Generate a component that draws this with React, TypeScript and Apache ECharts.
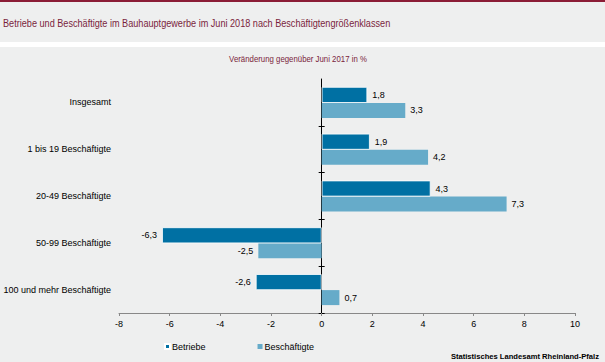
import React, { useEffect, useRef } from "react";
import * as echarts from "echarts";

const categories = [
  "Insgesamt",
  "1 bis 19 Beschäftigte",
  "20-49 Beschäftigte",
  "50-99 Beschäftigte",
  "100 und mehr Beschäftigte",
];
const betriebe = [1.8, 1.9, 4.3, -6.3, -2.6];
const beschaeftigte = [3.3, 4.2, 7.3, -2.5, 0.7];
const xMin = -8;
const xMax = 10;
const xInterval = 2;

const FONT = "'Liberation Sans', Arial, sans-serif";
const fmt = (v: number) => String(v).replace(".", ",");

const GRID_LEFT = 119;
const GRID_RIGHT = 30;
const GRID_W = 605 - GRID_LEFT - GRID_RIGHT;
const ZERO_OFFSET = -(GRID_W * (0 - xMin)) / (xMax - xMin);

export default function App() {
  const ref = useRef<HTMLDivElement>(null);
  useEffect(() => {
    document.body.style.margin = "0";
    const chart = echarts.init(ref.current!, null, { renderer: "svg" });
    const label = (pos: string) => ({
      show: true,
      position: pos,
      distance: 5,
      color: "#000",
      fontSize: 9,
      fontFamily: FONT,
      formatter: (p: any) => fmt(p.value),
    });
    const tickAxis = (inside: boolean) => ({
      type: "category",
      data: categories,
      inverse: true,
      position: "left",
      offset: ZERO_OFFSET,
      axisLine: { show: !inside, onZero: false, lineStyle: { color: "#000", width: 1 } },
      axisTick: {
        show: true,
        inside,
        length: 3,
        interval: (i: number) => i > 0,
        lineStyle: { color: "#000" },
      },
      axisLabel: { show: false },
    });
    chart.setOption({
      animation: false,
      backgroundColor: "#EEEFEF",
      textStyle: { fontFamily: FONT },
      graphic: [
        { type: "rect", shape: { x: 0, y: 0, width: 605, height: 2 }, style: { fill: "#8B1C36" } },
        { type: "rect", shape: { x: 0, y: 42, width: 605, height: 5 }, style: { fill: "#FFFFFF" } },
        {
          type: "text",
          x: 3,
          y: 23,
          scaleX: 0.83,
          style: {
            text: "Betriebe und Beschäftigte im Bauhauptgewerbe im Juni 2018 nach Beschäftigtengrößenklassen",
            fill: "#7A1E3C",
            font: `11px ${FONT}`,
            textVerticalAlign: "middle",
          },
        },
        {
          type: "text",
          x: 298,
          y: 59,
          scaleX: 0.87,
          style: {
            text: "Veränderung gegenüber Juni 2017 in %",
            fill: "#7A1E3C",
            font: `9px ${FONT}`,
            textAlign: "center",
            textVerticalAlign: "middle",
          },
        },
        {
          type: "text",
          x: 599,
          y: 356,
          style: {
            text: "Statistisches Landesamt Rheinland-Pfalz",
            fill: "#000",
            font: `bold 7.6px ${FONT}`,
            textAlign: "right",
            textVerticalAlign: "middle",
          },
        },
      ],
      legend: {
        left: 159,
        top: 337,
        itemWidth: 5,
        itemHeight: 5,
        itemGap: 52,
        icon: "rect",
        textStyle: { fontSize: 9, color: "#000", fontFamily: FONT, padding: [0, 0, 0, -3] },
        data: ["Betriebe", "Beschäftigte"],
      },
      grid: { left: GRID_LEFT, right: GRID_RIGHT, top: 79, bottom: 49 },
      xAxis: {
        type: "value",
        min: xMin,
        max: xMax,
        interval: xInterval,
        axisLine: { show: true, onZero: false, lineStyle: { color: "#888", width: 1 } },
        axisTick: { show: true, length: 3, lineStyle: { color: "#888" } },
        splitLine: { show: false },
        axisLabel: { color: "#000", fontSize: 9, margin: 6, fontFamily: FONT },
      },
      yAxis: [
        {
          type: "category",
          data: categories,
          inverse: true,
          position: "left",
          axisLine: { show: false, onZero: false },
          axisTick: { show: false },
          axisLabel: { color: "#000", fontSize: 9, margin: 8, fontFamily: FONT },
        },
        tickAxis(false),
        tickAxis(true),
      ],
      series: [
        {
          name: "Betriebe",
          type: "bar",
          yAxisIndex: 0,
          data: betriebe.map((v) => ({ value: v, label: label(v < 0 ? "left" : "right") })),
          itemStyle: { color: "#0070A3", borderColor: "#FFFFFF", borderWidth: 0.8 },
          barWidth: 16,
          barGap: "0%",
          z: 3,
        },
        {
          name: "Beschäftigte",
          type: "bar",
          yAxisIndex: 0,
          data: beschaeftigte.map((v) => ({ value: v, label: label(v < 0 ? "left" : "right") })),
          itemStyle: { color: "#66ABC9" },
          barWidth: 15,
          barGap: "0%",
          z: 2,
        },
      ],
    });
    return () => chart.dispose();
  }, []);
  return <div ref={ref} style={{ width: 605, height: 362 }} />;
}
